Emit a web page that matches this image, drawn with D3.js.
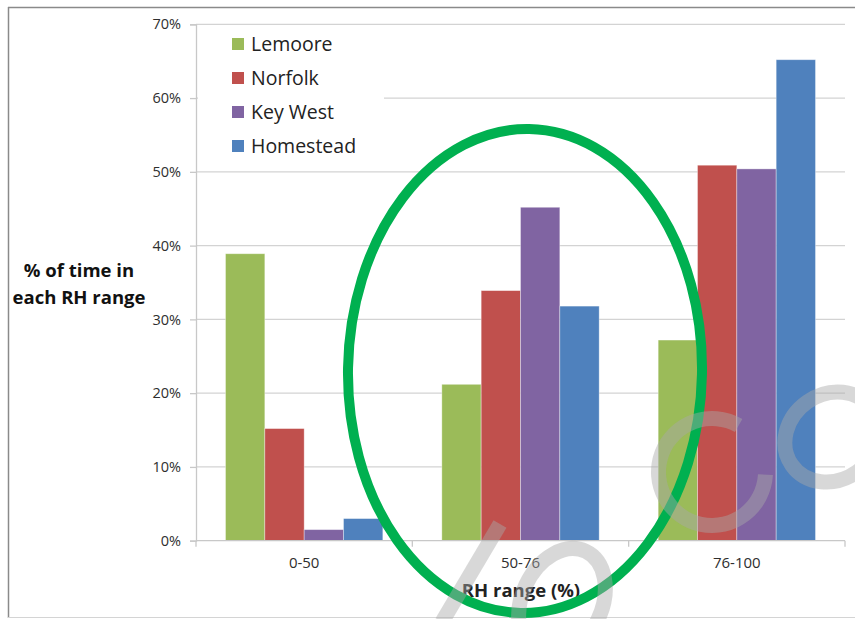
<!DOCTYPE html>
<html>
<head>
<meta charset="utf-8">
<script src="https://cdn.jsdelivr.net/npm/d3@7"></script>
<style>
  html, body { margin: 0; padding: 0; background: #fff; }
  svg { display: block; }
  text { font-family: "Open Sans", "Liberation Sans", sans-serif; }
</style>
</head>
<body>
<svg id="chart" width="855" height="619"></svg>
<script>
// Share of time spent in each relative-humidity band, per site
const categories = ["0-50", "50-76", "76-100"];
const seriesNames = ["Lemoore", "Norfolk", "Key West", "Homestead"];
const lemoore   = [0.389, 0.212, 0.272];
const norfolk   = [0.152, 0.339, 0.509];
const keyWest   = [0.015, 0.452, 0.504];
const homestead = [0.030, 0.318, 0.652];
const yTicks = [0, 0.1, 0.2, 0.3, 0.4, 0.5, 0.6, 0.7];

const seriesValues = [lemoore, norfolk, keyWest, homestead];
const colors = ["#9BBB59", "#C0504D", "#8064A2", "#4F81BD"];

const svg = d3.select("#chart");
const plotLeft = 196, plotRight = 845, plotTop = 24.3, plotBottom = 540.7;

// outer frame
svg.append("line").attr("x1", 8).attr("x2", 855).attr("y1", 7.5).attr("y2", 7.5)
  .attr("stroke", "#8a8a8a").attr("stroke-width", 1.5);
svg.append("line").attr("x1", 8.5).attr("x2", 8.5).attr("y1", 7).attr("y2", 618)
  .attr("stroke", "#8a8a8a").attr("stroke-width", 1.5);
svg.append("line").attr("x1", 8).attr("x2", 855).attr("y1", 617.5).attr("y2", 617.5)
  .attr("stroke", "#d4d4d4").attr("stroke-width", 1);

const x = d3.scaleBand().domain(categories).range([plotLeft, plotRight]).padding(0);
const xs = d3.scaleBand().domain(seriesNames).range([0, x.bandwidth()])
  .paddingInner(0).paddingOuter(0.75);
const y = d3.scaleLinear().domain([0, 0.7]).range([plotBottom, plotTop]);

// gridlines
svg.append("g").selectAll("line").data(yTicks.slice(1)).join("line")
  .attr("x1", plotLeft).attr("x2", plotRight)
  .attr("y1", d => y(d)).attr("y2", d => y(d))
  .attr("stroke", "#d3d3d3").attr("stroke-width", 1.3);

// y axis
const yAxis = svg.append("g").attr("transform", `translate(${plotLeft},0)`)
  .call(d3.axisLeft(y).tickValues(yTicks).tickFormat(d3.format(".0%"))
    .tickSize(6).tickPadding(9));
yAxis.select(".domain").attr("stroke", "#c8c8c8").attr("stroke-width", 1.3);
yAxis.selectAll(".tick line").attr("stroke", "#c8c8c8").attr("stroke-width", 1.3);
yAxis.selectAll(".tick text").attr("font-size", 14.5).attr("fill", "#2e2e2e")
  .attr("font-family", "Open Sans, sans-serif");

// bars
const groups = svg.append("g").selectAll("g").data(categories).join("g")
  .attr("transform", d => `translate(${x(d)},0)`);
groups.selectAll("rect")
  .data((c, ci) => seriesNames.map((s, si) => ({ s, si, v: seriesValues[si][ci] })))
  .join("rect")
  .attr("x", d => xs(d.s))
  .attr("width", xs.bandwidth())
  .attr("y", d => y(d.v))
  .attr("height", d => y(0) - y(d.v))
  .attr("fill", d => colors[d.si])
  .attr("stroke", "#ffffff").attr("stroke-opacity", 0.45).attr("stroke-width", 0.8);

// x axis
svg.append("line").attr("x1", plotLeft).attr("x2", plotRight).attr("y1", plotBottom).attr("y2", plotBottom)
  .attr("stroke", "#c8c8c8").attr("stroke-width", 1.3);
const bounds = categories.map(c => x(c)).concat([plotRight]);
svg.append("g").selectAll("line").data(bounds).join("line")
  .attr("x1", d => d).attr("x2", d => d)
  .attr("y1", plotBottom).attr("y2", plotBottom + 6)
  .attr("stroke", "#c8c8c8").attr("stroke-width", 1.3);
svg.append("g").selectAll("text").data(categories).join("text")
  .attr("x", d => x(d) + x.bandwidth() / 2).attr("y", 568)
  .attr("text-anchor", "middle").attr("font-size", 15).attr("fill", "#2e2e2e")
  .text(d => d);

// axis titles
svg.append("text").attr("x", 521).attr("y", 597).attr("text-anchor", "middle")
  .attr("font-size", 18.5).attr("font-weight", "bold").attr("fill", "#222")
  .text("RH range (%)");
const yTitle = svg.append("text").attr("text-anchor", "middle")
  .attr("font-size", 18.5).attr("font-weight", "bold").attr("fill", "#111");
yTitle.append("tspan").attr("x", 79).attr("y", 277).text("% of time in");
yTitle.append("tspan").attr("x", 79).attr("y", 304).text("each RH range");

// legend
const legend = svg.append("g");
legend.append("rect").attr("x", 198).attr("y", 29).attr("width", 186).attr("height", 132)
  .attr("fill", "#fff");
const items = legend.selectAll("g").data(seriesNames).join("g")
  .attr("transform", (d, i) => `translate(232,${44 + i * 34})`);
items.append("rect").attr("x", 0).attr("y", -6).attr("width", 12).attr("height", 12)
  .attr("fill", (d, i) => colors[i]);
items.append("text").attr("x", 19).attr("y", 7).attr("font-size", 19.5).attr("fill", "#222")
  .text(d => d);

// highlight ellipse around the middle band
svg.append("ellipse")
  .attr("cx", 525).attr("cy", 371).attr("rx", 177).attr("ry", 242)
  .attr("transform", "rotate(1,525,371)")
  .attr("fill", "none").attr("stroke", "#00B050").attr("stroke-width", 10);

// faint stamp strokes across the lower right
const stamp = svg.append("g").attr("fill", "none").attr("stroke", "#a8a8a8")
  .attr("stroke-opacity", 0.45).attr("stroke-width", 15);
const arc = d3.arc().innerRadius(46).outerRadius(61)
  .startAngle(Math.PI * 0.5 + 0.05).endAngle(Math.PI * 2.5 - 1.05);
stamp.append("path").attr("d", arc()).attr("transform", "translate(712,472)")
  .attr("stroke", "none").attr("fill", "#a8a8a8").attr("fill-opacity", 0.45);
stamp.append("ellipse").attr("cx", 832).attr("cy", 437).attr("rx", 49).attr("ry", 43)
  .attr("transform", "rotate(-35,832,437)");
stamp.append("line").attr("x1", 500).attr("y1", 524).attr("x2", 442).attr("y2", 622);
stamp.append("ellipse").attr("cx", 562).attr("cy", 602).attr("rx", 40).attr("ry", 56)
  .attr("transform", "rotate(25,562,602)");
</script>
</body>
</html>
